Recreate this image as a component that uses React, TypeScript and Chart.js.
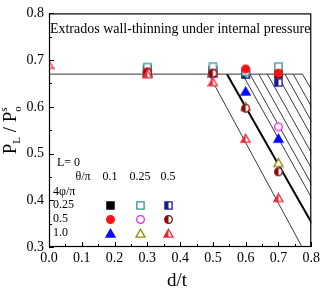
import React, { useEffect, useRef } from "react";
import { Chart, registerables } from "chart.js";
Chart.register(...registerables);

const SERIF = "'Liberation Serif', 'Times New Roman', serif";

// d/t positions of the FE results
const dT = [0, 0.3, 0.5, 0.6, 0.7];
// θ/π = 0.1
const sq01 = [null, 0.68, 0.678, 0.67, 0.67];
const ci01 = [null, 0.675, 0.672, 0.681, 0.672];
const tr01 = [null, 0.673, 0.672, 0.633, 0.532];
// θ/π = 0.25
const sq025 = [null, 0.685, 0.686, 0.675, 0.686];
const ci025 = [null, 0.678, 0.675, 0.678, 0.557];
const tr025 = [null, 0.675, 0.675, 0.6, 0.48];
// θ/π = 0.5
const sq05 = [null, 0.68, 0.678, 0.67, 0.652];
const ci05 = [null, 0.673, 0.672, 0.597, 0.461];
const tr05 = [0.69, 0.67, 0.653, 0.532, 0.405];

// plateau line
const plateauX = [0, 0.773, 0.8];
const plateauY = [0.67, 0.67, 0.638];
// sloped limit lines: start on plateau (P=0.67), end at P=0.3
const cutStartX = [0.487, 0.59, 0.613, 0.64, 0.666, 0.695, 0.72, 0.745];
const cutEndX = [0.772, 0.885, 0.908, 0.935, 0.961, 0.99, 1.015, 1.04];
const thickStartX = 0.543;
const thickEndX = 0.843;
const cutTopY = 0.67;
const cutBottomY = 0.3;

const xTicks = [0, 0.1, 0.2, 0.3, 0.4, 0.5, 0.6, 0.7, 0.8];
const yTicks = [0.3, 0.4, 0.5, 0.6, 0.7, 0.8];

const thetaLabels = ["0.1", "0.25", "0.5"];
const phiLabels = ["0.25", "0.5", "1.0"];

type Kind = "square" | "circle" | "triangle";
type Fill = "full" | "open" | "half";

function makeMarker(kind: Kind, color: string, fill: Fill): HTMLCanvasElement {
  const c = document.createElement("canvas");
  const S = 11;
  c.width = S;
  c.height = S;
  const ctx = c.getContext("2d")!;
  const cx = S / 2, cy = S / 2;
  const path = () => {
    ctx.beginPath();
    if (kind === "square") {
      ctx.rect(cx - 3.6, cy - 3.6, 7.2, 7.2);
    } else if (kind === "circle") {
      ctx.arc(cx, cy, 3.8, 0, Math.PI * 2);
    } else {
      ctx.moveTo(cx, cy - 4.3);
      ctx.lineTo(cx + 4.5, cy + 3.6);
      ctx.lineTo(cx - 4.5, cy + 3.6);
      ctx.closePath();
    }
  };
  path();
  ctx.fillStyle = fill === "full" ? color : "#ffffff";
  ctx.fill();
  if (fill === "half") {
    ctx.save();
    path();
    ctx.clip();
    ctx.fillStyle = color;
    ctx.fillRect(0, 0, cx, S);
    ctx.restore();
  }
  path();
  ctx.lineWidth = 1.3;
  ctx.strokeStyle = color;
  ctx.stroke();
  return c;
}

export default function App() {
  const ref = useRef<HTMLCanvasElement>(null);
  useEffect(() => {
    const markers = [
      [makeMarker("square", "#000000", "full"), makeMarker("square", "#2f8f8f", "open"), makeMarker("square", "#1c1c8a", "half")],
      [makeMarker("circle", "#ff1010", "full"), makeMarker("circle", "#ee22ee", "open"), makeMarker("circle", "#8a0c0c", "half")],
      [makeMarker("triangle", "#0a0aff", "full"), makeMarker("triangle", "#8a8a10", "open"), makeMarker("triangle", "#e8283a", "half")],
    ];
    const seriesVals = [
      [sq01, sq025, sq05],
      [ci01, ci025, ci05],
      [tr01, tr025, tr05],
    ];
    // drawing order (lower = on top)
    const orders = [
      [8, 3, 6],
      [2, 7, 1],
      [5, 4, 0],
    ];
    const datasets: any[] = [];
    const line = (xs: number[], ys: number[], w: number, col: string) => ({
      type: "line",
      data: xs.map((x, i) => ({ x, y: ys[i] })),
      borderColor: col,
      borderWidth: w,
      pointRadius: 0,
      showLine: true,
      fill: false,
      order: 20,
    });
    datasets.push(line(plateauX, plateauY, 1, "#333333"));
    cutStartX.forEach((s, i) => datasets.push(line([s, cutEndX[i]], [cutTopY, cutBottomY], 1, "#3a3a3a")));
    datasets.push(line([thickStartX, thickEndX], [cutTopY, cutBottomY], 2, "#000000"));
    for (let r = 0; r < 3; r++) {
      for (let c = 0; c < 3; c++) {
        const vals = seriesVals[r][c];
        datasets.push({
          type: "scatter",
          data: dT.map((x, i) => ({ x, y: vals[i] })).filter((p) => p.y !== null),
          pointStyle: markers[r][c],
          pointRadius: 5,
          showLine: false,
          order: orders[r][c],
        });
      }
    }

    const decor = {
      id: "decor",
      afterDatasetsDraw(chart: any) {
        const ctx = chart.ctx as CanvasRenderingContext2D;
        const { left, right, top, bottom } = chart.chartArea;
        const xs = chart.scales.x, ys = chart.scales.y;
        ctx.save();
        ctx.strokeStyle = "#000";
        ctx.lineWidth = 1.2;
        ctx.strokeRect(left + 0.5, top + 0.5, right - left - 1, bottom - top - 1);
        // inward ticks
        ctx.lineWidth = 1;
        ctx.beginPath();
        for (let i = 0; i < xTicks.length; i++) {
          const px = Math.round(xs.getPixelForValue(xTicks[i])) + 0.5;
          ctx.moveTo(px, bottom);
          ctx.lineTo(px, bottom - 5);
          if (i < xTicks.length - 1) {
            const pm = Math.round(xs.getPixelForValue((xTicks[i] + xTicks[i + 1]) / 2)) + 0.5;
            ctx.moveTo(pm, bottom);
            ctx.lineTo(pm, bottom - 3);
          }
        }
        for (let i = 0; i < yTicks.length; i++) {
          const py = Math.round(ys.getPixelForValue(yTicks[i])) + 0.5;
          ctx.moveTo(left, py);
          ctx.lineTo(left + 5, py);
          if (i < yTicks.length - 1) {
            const pm = Math.round(ys.getPixelForValue((yTicks[i] + yTicks[i + 1]) / 2)) + 0.5;
            ctx.moveTo(left, pm);
            ctx.lineTo(left + 3, pm);
          }
        }
        ctx.stroke();

        ctx.fillStyle = "#000";
        // inner title
        ctx.font = `14px ${SERIF}`;
        ctx.textAlign = "center";
        ctx.textBaseline = "middle";
        ctx.fillText("Extrados wall-thinning under internal pressure", (left + right) / 2, top + 16);

        // legend block
        ctx.font = `12px ${SERIF}`;
        ctx.textAlign = "left";
        ctx.fillText("L= 0", left + 8, bottom - 84);
        ctx.textAlign = "center";
        ctx.fillText("θ/π", left + 34, bottom - 70);
        const colX = [left + 61, left + 91, left + 119];
        thetaLabels.forEach((t, i) => ctx.fillText(t, colX[i], bottom - 70));
        ctx.textAlign = "left";
        ctx.fillText("4φ/π", left + 4, bottom - 55);
        const rowY = [bottom - 42, bottom - 28, bottom - 14];
        phiLabels.forEach((t, r) => {
          ctx.textAlign = "left";
          ctx.fillText(t, left + 4, rowY[r]);
          for (let c = 0; c < 3; c++) {
            const m = markers[r][c];
            ctx.drawImage(m, Math.round(colX[c] - m.width / 2), Math.round(rowY[r] - m.height / 2));
          }
        });

        // x title
        ctx.font = `19px ${SERIF}`;
        ctx.textAlign = "center";
        ctx.textBaseline = "alphabetic";
        ctx.fillText("d/t", left + 128, 286);

        // y title rotated
        ctx.save();
        ctx.translate(16, (top + bottom) / 2);
        ctx.rotate(-Math.PI / 2);
        const big = `19px ${SERIF}`, small = `11px ${SERIF}`;
        ctx.font = big;
        const wP = ctx.measureText("P").width;
        const wSl = ctx.measureText(" / ").width;
        ctx.font = small;
        const wL = ctx.measureText("L").width;
        const wS = Math.max(ctx.measureText("s").width, ctx.measureText("o").width);
        const total = wP + wL + wSl + wP + wS;
        let x = -total / 2;
        ctx.textAlign = "left";
        ctx.font = big;
        ctx.fillText("P", x, 0); x += wP;
        ctx.font = small;
        ctx.fillText("L", x, 4); x += wL;
        ctx.font = big;
        ctx.fillText(" / ", x, 0); x += wSl;
        ctx.fillText("P", x, 0); x += wP;
        ctx.font = small;
        ctx.fillText("s", x, -9);
        ctx.fillText("o", x, 5);
        ctx.restore();

        ctx.restore();
      },
    };

    const chart = new Chart(ref.current!, {
      type: "scatter",
      data: { datasets },
      options: {
        animation: false,
        responsive: false,
        devicePixelRatio: 1,
        layout: { padding: { left: 0, top: 8, right: 11, bottom: 0 } },
        plugins: { legend: { display: false }, tooltip: { enabled: false }, title: { display: false } },
        scales: {
          x: {
            type: "linear",
            min: 0,
            max: 0.8,
            grid: { display: false, drawTicks: false },
            border: { display: false },
            ticks: {
              stepSize: 0.1,
              padding: 3,
              color: "#000",
              font: { family: SERIF, size: 14 },
              callback: (v: any) => Number(v).toFixed(1),
            },
            afterFit: (s: any) => { s.height = 41; },
          },
          y: {
            type: "linear",
            min: 0.3,
            max: 0.8,
            grid: { display: false, drawTicks: false },
            border: { display: false },
            ticks: {
              stepSize: 0.1,
              padding: 5,
              color: "#000",
              font: { family: SERIF, size: 14 },
              callback: (v: any) => Number(v).toFixed(1),
            },
            afterFit: (s: any) => { s.width = 49; },
          },
        },
      } as any,
      plugins: [decor],
    });
    return () => chart.destroy();
  }, []);
  return (
    <div style={{ position: "fixed", left: 0, top: 0, width: 323, height: 288, background: "#fff" }}>
      <canvas ref={ref} width={323} height={288} style={{ display: "block" }} />
    </div>
  );
}
